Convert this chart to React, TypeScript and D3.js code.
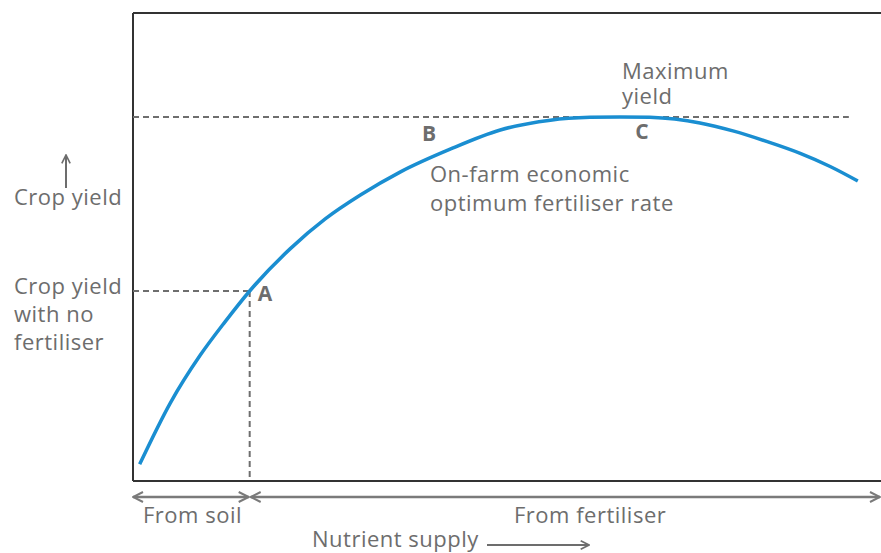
import { useEffect, useRef } from 'react';
import * as d3 from 'd3';

// Nutrient supply (0-100) vs crop yield (0-100)
const supply = [0.9, 5.0, 9.0, 12.3, 15.6, 21.0, 25.7, 30.4, 35.7, 42.4, 49.1, 55.8, 61.1, 65.1, 69.1, 75.8, 80.2, 84.8, 89.2, 93.2, 96.9];
const yieldValues = [3.6, 16.7, 26.9, 34.0, 40.6, 49.6, 56.0, 61.1, 66.0, 70.9, 75.0, 77.1, 77.7, 77.8, 77.7, 76.5, 74.8, 72.5, 70.0, 67.2, 64.1];

const pointLabels = ['A', 'B', 'C'];
const pointSupply = [15.6, 39.7, 67.8];
const pointYield = [40.6, 68.6, 77.8];
const pointDx = [8, -8, -5];
const pointDy = [10, -19, 22];

const maxYield = 77.8;
const maxLineEnd = 95.7;
const soilSupply = 15.6;
const soilYield = 40.6;

const width = 881;
const height = 553;
const FONT = "'Open Sans', 'Noto Sans', sans-serif";
const TEXT = '#6d6d6d';

export default function App() {
  const svgRef = useRef<SVGSVGElement>(null);

  useEffect(() => {
    if (!svgRef.current) return;
    const svg = d3.select(svgRef.current);
    svg.selectAll('*').remove();

    const x = d3.scaleLinear().domain([0, 100]).range([133, 881]);
    const y = d3.scaleLinear().domain([0, 100]).range([481, 13]);

    const defs = svg.append('defs');
    defs.append('marker')
      .attr('id', 'arr')
      .attr('viewBox', '0 0 12 12')
      .attr('refX', 11)
      .attr('refY', 6)
      .attr('markerWidth', 12)
      .attr('markerHeight', 12)
      .attr('markerUnits', 'userSpaceOnUse')
      .attr('orient', 'auto-start-reverse')
      .append('path')
      .attr('d', 'M1,1 L11,6 L1,11')
      .attr('fill', 'none')
      .attr('stroke', '#7a7a7a')
      .attr('stroke-width', 2);
    defs.append('marker')
      .attr('id', 'arrSmall')
      .attr('viewBox', '0 0 12 12')
      .attr('refX', 11)
      .attr('refY', 6)
      .attr('markerWidth', 10)
      .attr('markerHeight', 10)
      .attr('markerUnits', 'userSpaceOnUse')
      .attr('orient', 'auto')
      .append('path')
      .attr('d', 'M1,1 L11,6 L1,11')
      .attr('fill', 'none')
      .attr('stroke', '#6d6d6d')
      .attr('stroke-width', 2);

    // Frame: left, top, bottom
    const frame = svg.append('g').attr('stroke', '#333').attr('stroke-width', 2).attr('fill', 'none');
    frame.append('line').attr('x1', x(0)).attr('x2', x(0)).attr('y1', y(100)).attr('y2', y(0));
    frame.append('line').attr('x1', x(0)).attr('x2', x(100)).attr('y1', y(100)).attr('y2', y(100));
    frame.append('line').attr('x1', x(0)).attr('x2', x(100)).attr('y1', y(0)).attr('y2', y(0));

    // Dashed guides
    const dash = svg.append('g')
      .attr('stroke', '#6e6e6e')
      .attr('stroke-width', 2)
      .attr('stroke-dasharray', '6,4')
      .attr('fill', 'none');
    dash.append('line').attr('x1', x(0)).attr('x2', x(maxLineEnd)).attr('y1', y(maxYield)).attr('y2', y(maxYield));
    dash.append('line').attr('x1', x(0)).attr('x2', x(soilSupply)).attr('y1', y(soilYield)).attr('y2', y(soilYield));
    dash.append('line').attr('x1', x(soilSupply)).attr('x2', x(soilSupply)).attr('y1', y(soilYield)).attr('y2', y(0));

    // Response curve
    const data = supply.map((s, i) => ({ s, v: yieldValues[i] }));
    const line = d3.line<{ s: number; v: number }>()
      .x(d => x(d.s))
      .y(d => y(d.v))
      .curve(d3.curveMonotoneX);
    svg.append('path')
      .datum(data)
      .attr('fill', 'none')
      .attr('stroke', '#1a8ed1')
      .attr('stroke-width', 3.5)
      .attr('d', line);

    // Point letters
    svg.append('g')
      .selectAll('text')
      .data(pointLabels)
      .join('text')
      .attr('x', (_, i) => x(pointSupply[i]) + pointDx[i])
      .attr('y', (_, i) => y(pointYield[i]) + pointDy[i])
      .style('font-family', FONT)
      .style('font-size', '21px')
      .style('font-weight', 'bold')
      .style('fill', TEXT)
      .text(d => d);

    // Supply arrows under the axis
    const arrowY = 497;
    const arrows = svg.append('g').attr('stroke', '#7a7a7a').attr('stroke-width', 2.5).attr('fill', 'none');
    arrows.append('line')
      .attr('x1', x(0)).attr('x2', x(soilSupply) - 1)
      .attr('y1', arrowY).attr('y2', arrowY)
      .attr('marker-start', 'url(#arr)')
      .attr('marker-end', 'url(#arr)');
    arrows.append('line')
      .attr('x1', x(soilSupply) + 1).attr('x2', x(100) - 1)
      .attr('y1', arrowY).attr('y2', arrowY)
      .attr('marker-start', 'url(#arr)')
      .attr('marker-end', 'url(#arr)');
    arrows.append('line')
      .attr('x1', 487).attr('x2', 589)
      .attr('y1', 545).attr('y2', 545)
      .attr('stroke', '#6d6d6d')
      .attr('stroke-width', 2)
      .attr('marker-end', 'url(#arrSmall)');
    // Y arrow
    arrows.append('line')
      .attr('x1', 66).attr('x2', 66)
      .attr('y1', 188).attr('y2', 155)
      .attr('stroke', '#6d6d6d')
      .attr('stroke-width', 2)
      .attr('marker-end', 'url(#arrSmall)');

    const label = (lines: string[], lx: number, ly: number, lh = 28) => {
      const t = svg.append('text')
        .attr('x', lx)
        .attr('y', ly)
        .style('font-family', FONT)
        .style('font-size', '22px')
        .style('letter-spacing', '0.5px')
        .style('fill', TEXT);
      lines.forEach((l, i) => {
        t.append('tspan').attr('x', lx).attr('y', ly + i * lh).text(l);
      });
    };

    label(['Crop yield'], 14, 205);
    label(['Crop yield', 'with no', 'fertiliser'], 14, 294);
    label(['Maximum', 'yield'], 622, 79, 25);
    label(['On-farm economic', 'optimum fertiliser rate'], 430, 182, 29);
    label(['From soil'], 143, 523);
    label(['From fertiliser'], 514, 523);
    label(['Nutrient supply'], 312, 547);
  }, []);

  return (
    <svg
      ref={svgRef}
      width={width}
      height={height}
      viewBox={`0 0 ${width} ${height}`}
      style={{ position: 'absolute', left: 0, top: 0, background: '#fff' }}
    />
  );
}
